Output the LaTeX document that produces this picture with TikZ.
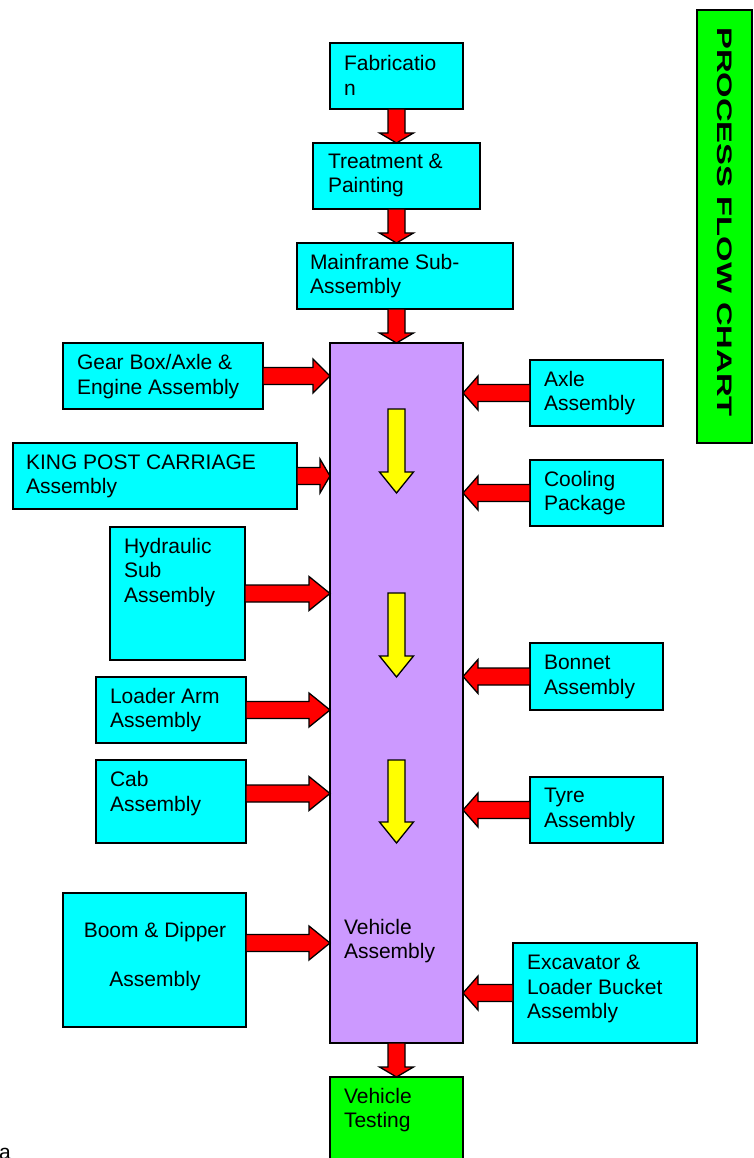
\documentclass[tikz,border=0pt]{standalone}
\usepackage{fontspec}
\setmainfont{Liberation Sans}
\usetikzlibrary{calc}
\definecolor{boxcyan}{HTML}{00FFFF}
\definecolor{vpurple}{HTML}{CC99FF}
\definecolor{vgreen}{HTML}{00FF00}
\definecolor{ared}{HTML}{FF0000}
\definecolor{ayellow}{HTML}{FFFF00}

% box from corners: name, left, top, right, bottom, style
\newcommand\mkbox[6]{\node[#6, minimum width={#4-#2}, minimum height={#5-#3}] (#1) at ({(#2+#4)/2},{(#3+#5)/2}) {};}
% block arrows: start, end, fill, head length
\newcommand\arrdown[4]{\draw[blockarrow, fill=#3] let \p1=(#1), \p2=(#2) in
  (\x1-8.5pt,\y1) -- (\x1+8.5pt,\y1) -- (\x1+8.5pt,\y2+#4pt) -- (\x1+17pt,\y2+#4pt) -- (\x1,\y2)
  -- (\x1-17pt,\y2+#4pt) -- (\x1-8.5pt,\y2+#4pt) -- cycle;}
\newcommand\arright[4]{\draw[blockarrow, fill=#3] let \p1=(#1), \p2=(#2) in
  (\x1,\y1-8.5pt) -- (\x2-#4pt,\y1-8.5pt) -- (\x2-#4pt,\y1-17pt) -- (\x2,\y1)
  -- (\x2-#4pt,\y1+17pt) -- (\x2-#4pt,\y1+8.5pt) -- (\x1,\y1+8.5pt) -- cycle;}
\newcommand\arleft[4]{\draw[blockarrow, fill=#3] let \p1=(#1), \p2=(#2) in
  (\x1,\y1-8.5pt) -- (\x2+#4pt,\y1-8.5pt) -- (\x2+#4pt,\y1-17pt) -- (\x2,\y1)
  -- (\x2+#4pt,\y1+17pt) -- (\x2+#4pt,\y1+8.5pt) -- (\x1,\y1+8.5pt) -- cycle;}

\begin{document}
\begin{tikzpicture}[x=1pt,y=-1pt,
  box/.style={draw, line width=1.5pt, fill=boxcyan, inner sep=0, outer sep=0},
  purplebox/.style={box, fill=vpurple},
  greenbox/.style={box, fill=vgreen},
  blockarrow/.style={draw=black, line width=1.3pt, line join=miter},
  lbl/.style={inner sep=0, outer sep=0, align=left, anchor=west, font=\fontsize{21}{24.5}\selectfont},
  clbl/.style={lbl, align=center, anchor=center},
  titlelbl/.style={inner sep=0, rotate=-90, font=\fontsize{21}{24.5}\selectfont\bfseries}]
\useasboundingbox (0,0) rectangle (753,1158);

% boxes
\mkbox{fab}{330}{43}{463}{109}{box}
\mkbox{treat}{313}{143}{480}{209}{box}
\mkbox{mf}{297}{243}{513}{309}{box}
\mkbox{va}{330}{343}{463}{1043}{purplebox}
\mkbox{vt}{330}{1077}{463}{1175}{greenbox}
\mkbox{gb}{63}{343}{263}{409}{box}
\mkbox{kp}{13}{443}{297}{509}{box}
\mkbox{hy}{110}{527}{245}{660}{box}
\mkbox{la}{96}{677}{246}{743}{box}
\mkbox{cab}{96}{760}{246}{843}{box}
\mkbox{boom}{63}{893}{246}{1027}{box}
\mkbox{axle}{530}{360}{663}{426}{box}
\mkbox{cool}{530}{460}{663}{526}{box}
\mkbox{bon}{530}{643}{663}{710}{box}
\mkbox{tyre}{530}{777}{663}{843}{box}
\mkbox{exc}{513}{943}{697}{1043}{box}
\mkbox{title}{697}{10}{752}{443}{greenbox}

% labels
\node[lbl] (fabl) at (344,75.5) {Fabricatio\\n};
\node[lbl] (treatl) at (328,175.5) {Treatment \&\\Painting};
\node[lbl] (mfl) at (310,276) {Mainframe Sub-\\Assembly};
\node[lbl] (val) at (344,941) {Vehicle\\Assembly};
\node[lbl] (vtl) at (344,1110) {Vehicle\\Testing};
\node[lbl] (gbl) at (77,376.5) {Gear Box/Axle \&\\Engine Assembly};
\node[lbl] (kpl) at (26,476.5) {KING POST CARRIAGE\\Assembly};
\node[lbl] (hyl) at (124,572.5) {Hydraulic\\Sub\\Assembly};
\node[lbl] (lal) at (110,710) {Loader Arm\\Assembly};
\node[lbl] (cabl) at (110,793.5) {Cab\\Assembly};
\node[clbl] (booml) at (155,956.5) {Boom \& Dipper\\\mbox{}\\Assembly};
\node[lbl] (axlel) at (544,393) {Axle\\Assembly};
\node[lbl] (cooll) at (544,493) {Cooling\\Package};
\node[lbl] (bonl) at (544,677) {Bonnet\\Assembly};
\node[lbl] (tyrel) at (544,810) {Tyre\\Assembly};
\node[lbl] (excl) at (527,989) {Excavator \&\\Loader Bucket\\Assembly};
\node[titlelbl] (titlel) at (725,222) {\scalebox{1.56}[1]{PROCESS FLOW CHART}};
\node[inner sep=0, anchor=base west, font=\fontsize{21}{24.5}\selectfont] (stray) at (-1,1159.5) {a};

% main chain arrows
\arrdown{fab.south}{treat.north}{ared}{10}
\arrdown{treat.south}{treat.south |- mf.north}{ared}{10}
\coordinate (mfout) at (mf.south -| va.north);
\arrdown{mfout}{va.north}{ared}{10}
\arrdown{va.south}{vt.north}{ared}{10}

% left inputs
\arright{gb.east}{gb.east -| va.west}{ared}{17}
\arright{kp.east}{kp.east -| va.west}{ared}{10}
\arright{hy.east}{hy.east -| va.west}{ared}{21}
\arright{la.east}{la.east -| va.west}{ared}{21}
\coordinate (cabout) at ([yshift=8pt]cab.east);
\arright{cabout}{cabout -| va.west}{ared}{21}
\coordinate (boomout) at ([yshift=17pt]boom.east);
\arright{boomout}{boomout -| va.west}{ared}{21}

% right inputs
\arleft{axle.west}{axle.west -| va.east}{ared}{15}
\arleft{cool.west}{cool.west -| va.east}{ared}{15}
\arleft{bon.west}{bon.west -| va.east}{ared}{15}
\arleft{tyre.west}{tyre.west -| va.east}{ared}{15}
\arleft{exc.west}{exc.west -| va.east}{ared}{15}

% yellow flow arrows inside vehicle assembly
\coordinate (ya) at (396.5,409);  \coordinate (yb) at (396.5,493);
\coordinate (yc) at (396.5,593);  \coordinate (yd) at (396.5,677);
\coordinate (ye) at (396.5,760);  \coordinate (yf) at (396.5,843);
\arrdown{ya}{yb}{ayellow}{21}
\arrdown{yc}{yd}{ayellow}{21}
\arrdown{ye}{yf}{ayellow}{21}
\end{tikzpicture}
\end{document}
